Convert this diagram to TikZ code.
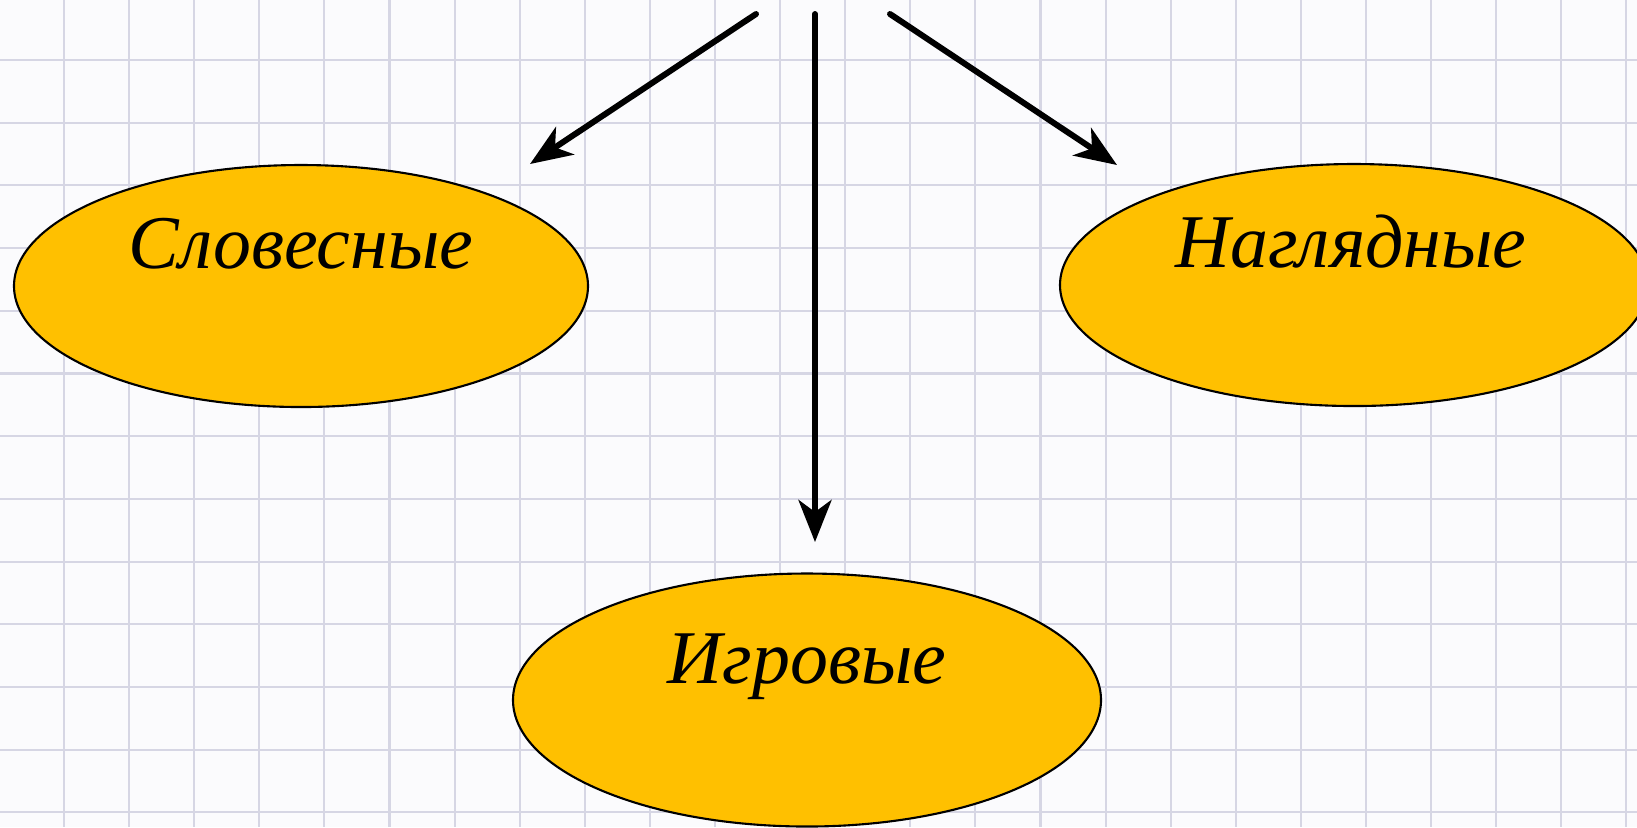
\documentclass[tikz,border=0pt]{standalone}
\usepackage{fontspec}
\setmainfont{Liberation Serif}
\usetikzlibrary{shapes.geometric,arrows.meta}
\definecolor{paper}{RGB}{251,251,253}
\definecolor{gridline}{RGB}{214,214,228}
\definecolor{gold}{RGB}{255,192,0}
\begin{document}
\begin{tikzpicture}[x=1cm, y=-1cm,
    metod/.style={ellipse, draw=black, line width=0.6pt, fill=gold, inner sep=0pt},
    lbl/.style={anchor=base, font=\fontsize{21.6}{26}\selectfont\itshape},
    arr/.style={line width=1.7pt, line cap=round,
        -{Stealth[length=4.2mm, width=3.3mm, inset=1.2mm]}}]
    \useasboundingbox (0,0) rectangle (16.37,8.27);
    \fill[paper] (0,0) rectangle (16.37,8.27);
    % squared paper
    \foreach \i in {0,...,24}
        \draw[gridline, line width=0.6pt] (0.64+0.651*\i,0) -- (0.64+0.651*\i,8.27);
    \foreach \j in {0,...,12}
        \draw[gridline, line width=0.6pt] (0,0.60+0.627*\j) -- (16.37,0.60+0.627*\j);
    % methods
    \node[metod, minimum width=5.74cm, minimum height=2.42cm] (slov) at (3.01,2.86) {};
    \node[metod, minimum width=5.88cm, minimum height=2.42cm] (nagl) at (13.54,2.85) {};
    \node[metod, minimum width=5.88cm, minimum height=2.53cm] (igr) at (8.07,7.00) {};
    \node[lbl] (slovtxt) at ([yshift=1.8mm]slov.center) {Словесные};
    \node[lbl] (nagltxt) at ([xshift=-0.3mm, yshift=1.8mm]nagl.center) {Наглядные};
    \node[lbl] (igrtxt) at ([yshift=1.7mm]igr.center) {Игровые};
    % arrows
    \coordinate (s1) at (7.56,0.14);
    \coordinate (t1) at (5.30,1.64);
    \coordinate (s2) at (8.15,0.14);
    \coordinate (t2) at (8.15,5.42);
    \coordinate (s3) at (8.90,0.14);
    \coordinate (t3) at (11.17,1.65);
    \draw[arr] (s1) -- (t1);
    \draw[arr] (s2) -- (t2);
    \draw[arr] (s3) -- (t3);
\end{tikzpicture}
\end{document}
